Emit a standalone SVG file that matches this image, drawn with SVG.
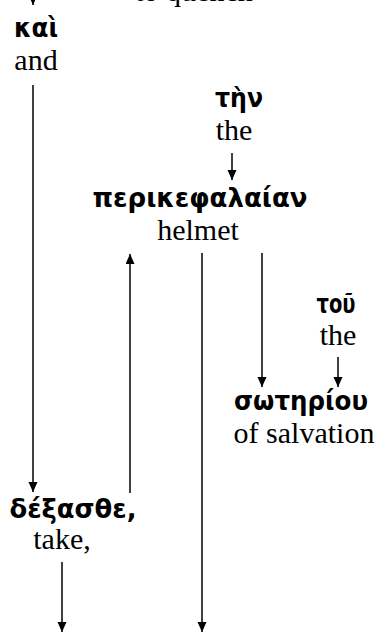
<svg xmlns="http://www.w3.org/2000/svg" width="379" height="635" viewBox="0 0 379 635">
<defs>
<marker id="ah" markerUnits="userSpaceOnUse" markerWidth="10" markerHeight="10" refX="10" refY="4.5" orient="auto">
<path d="M0,0 L10,4.5 L0,9 z" fill="#000"/>
</marker>
<style>
.gk{font-family:"DejaVu Sans","Noto Sans",sans-serif;font-weight:bold;font-size:26px;fill:#000;text-anchor:middle}
.en{font-family:"Liberation Serif","Times New Roman",serif;font-size:30px;fill:#000;text-anchor:middle}
.c{stroke:#000;stroke-width:1.5;fill:none}
.a{marker-end:url(#ah)}
</style>
</defs>
<rect width="379" height="635" fill="#fff"/>
<g id="top-gloss"><text class="en" x="194" y="1">to quench</text></g>
<g id="kai"><text class="gk" x="36" y="37" textLength="44" lengthAdjust="spacingAndGlyphs">καὶ</text><text class="en" x="36" y="70">and</text></g>
<g id="ten"><text class="gk" x="239" y="107" textLength="48" lengthAdjust="spacingAndGlyphs">τὴν</text><text class="en" x="234" y="140">the</text></g>
<g id="perikefalaian"><text class="gk" x="200" y="207" textLength="215" lengthAdjust="spacingAndGlyphs">περικεφαλαίαν</text><text class="en" x="198" y="240">helmet</text></g>
<g id="tou"><text class="gk" x="336" y="313" textLength="39" lengthAdjust="spacingAndGlyphs">τοῦ</text><text class="en" x="338" y="345">the</text></g>
<g id="soteriou"><text class="gk" x="301" y="410" textLength="134" lengthAdjust="spacingAndGlyphs">σωτηρίου</text><text class="en" x="304" y="443">of salvation</text></g>
<g id="dexasthe"><text class="gk" x="73" y="518" textLength="127" lengthAdjust="spacingAndGlyphs">δέξασθε,</text><text class="en" x="62" y="549">take,</text></g>
<g id="connectors">
<line class="c a" x1="33" y1="-10" x2="33" y2="5"/>
<line class="c a" x1="33" y1="85" x2="33" y2="492"/>
<line class="c a" x1="232" y1="153" x2="232" y2="180"/>
<line class="c a" x1="130" y1="493" x2="130" y2="254"/>
<line class="c a" x1="202" y1="253" x2="202" y2="632"/>
<line class="c a" x1="262" y1="253" x2="262" y2="387"/>
<line class="c a" x1="338" y1="357" x2="338" y2="387"/>
<line class="c a" x1="62" y1="562" x2="62" y2="632"/>
</g>
</svg>
